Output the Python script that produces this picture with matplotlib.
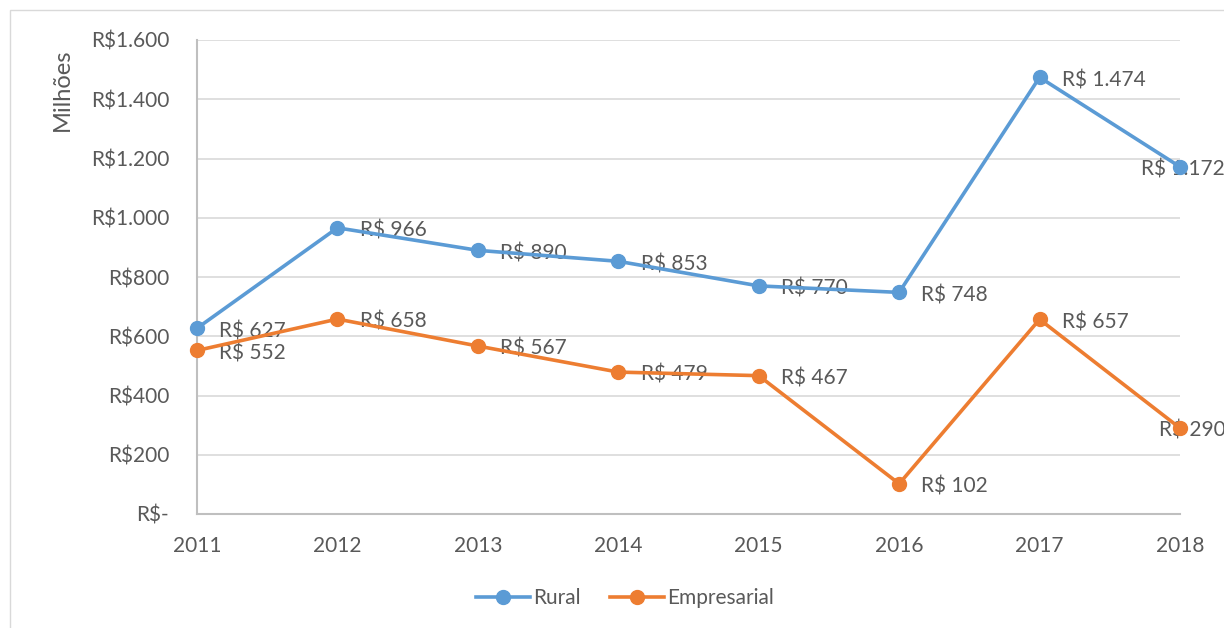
import matplotlib as mpl
import matplotlib.pyplot as plt
from matplotlib.patches import Rectangle
from matplotlib.ticker import FuncFormatter

mpl.use("Agg")
plt.rcParams["font.family"] = ["Lato", "DejaVu Sans"]

years = [2011, 2012, 2013, 2014, 2015, 2016, 2017, 2018]
rural = [627, 966, 890, 853, 770, 748, 1474, 1172]
empresarial = [552, 658, 567, 479, 467, 102, 657, 290]

W, H = 1224, 628
text_color = "#595959"
blue = "#5B9BD5"
orange = "#ED7D31"
fs = 15


def fmt_brl(v, pos=None):
    v = int(round(v))
    if v == 0:
        return "R$-"
    return "R$" + f"{v:,}".replace(",", ".")


def fmt_label(v):
    return "R$ " + f"{v:,}".replace(",", ".")


fig = plt.figure(figsize=(W / 100, H / 100), dpi=100)
# outer chart border
fig.patches.append(Rectangle((10 / W, -0.1), 1.2, 1 - 10 / H + 0.1,
                             transform=fig.transFigure, fill=False,
                             edgecolor="#d9d9d9", linewidth=1.0))

ax = fig.add_axes([197 / W, 1 - 514 / H, (1180 - 197) / W, (514 - 40) / H])
ax.set_xlim(years[0], years[-1])
ax.set_ylim(0, 1600)
ax.set_yticks(range(0, 1601, 200))
ax.set_xticks(years)
ax.yaxis.set_major_formatter(FuncFormatter(fmt_brl))
ax.grid(axis="y", color="#d9d9d9", linewidth=1.2)
ax.set_axisbelow(True)
for s in ["top", "right"]:
    ax.spines[s].set_visible(False)
for s in ["left", "bottom"]:
    ax.spines[s].set_color("#bfbfbf")
    ax.spines[s].set_linewidth(1.5)
ax.tick_params(length=0, labelsize=fs, colors=text_color)
ax.tick_params(axis="y", pad=20)
ax.tick_params(axis="x", pad=16)

ax.plot(years, rural, color=blue, lw=2.6, marker="o", ms=10, label="Rural",
        zorder=4, clip_on=False)
ax.plot(years, empresarial, color=orange, lw=2.6, marker="o", ms=10,
        label="Empresarial", zorder=4, clip_on=False)

for series in (rural, empresarial):
    for i, (x, y) in enumerate(zip(years, series)):
        if i == len(years) - 1:
            dx = -28 if y > 1000 else -15
        else:
            dx = 16
        ax.annotate(fmt_label(y), (x, y), xytext=(dx, -2), textcoords="offset points",
                    ha="left", va="center", fontsize=fs, color=text_color,
                    annotation_clip=False, zorder=3)

fig.text(62 / W, 1 - 90 / H, "Milhões", rotation=90, ha="center", va="center",
         fontsize=17, color=text_color)

fig.legend(loc="center", bbox_to_anchor=(625 / W, 1 - 598 / H), ncol=2,
           frameon=False, fontsize=fs, labelcolor=text_color, handlelength=2.6,
           columnspacing=1.4, handletextpad=0.15)

fig.savefig("out.png", dpi=100)
